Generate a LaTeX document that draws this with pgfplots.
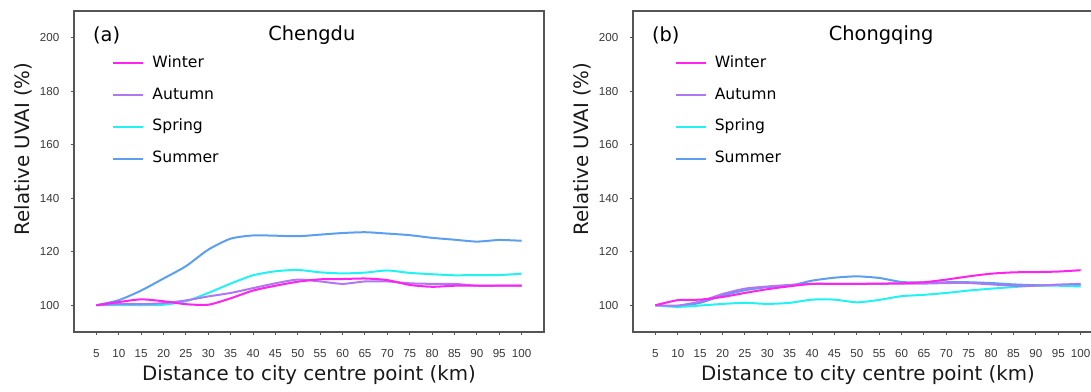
\documentclass[border=0pt]{standalone}
\usepackage{fontspec}
\setmainfont{DejaVu Sans}
\newfontfamily\tickfont{Liberation Sans}
\usepackage{pgfplots}
\usepackage{pgfplotstable}
\pgfplotsset{compat=1.18}
\definecolor{cwin}{HTML}{FF22F0}
\definecolor{caut}{HTML}{AE78F2}
\definecolor{cspr}{HTML}{22F2F2}
\definecolor{csum}{HTML}{5C9FF0}
\definecolor{axgray}{HTML}{555555}

\pgfplotstableread{
d   win   aut   spr   sum
5   100.0 100.0 100.0 100.0
10  101.2 100.5 100.1 101.9
15  102.2 100.4 100.0 105.5
20  101.5 100.8 100.2 110.0
25  100.4 101.8 101.5 114.6
30  100.2 103.3 104.6 120.8
35  102.6 104.6 108.1 124.9
40  105.5 106.4 111.2 126.1
45  107.3 108.2 112.7 126.0
50  108.8 109.6 113.2 125.8
55  109.7 108.9 112.3 126.4
60  109.8 108.0 111.9 127.0
65  110.0 108.9 112.2 127.3
70  109.4 108.9 113.0 126.8
75  107.6 108.2 112.1 126.2
80  106.9 108.0 111.6 125.2
85  107.3 108.0 111.2 124.5
90  107.3 107.3 111.3 123.8
95  107.3 107.3 111.3 124.4
100 107.3 107.3 111.8 124.1
}\chengdu

\pgfplotstableread{
d   win   aut   spr   sum
5   100.0 100.0 100.0 100.0
10  101.9  99.9  99.4  99.6
15  102.1 101.4  99.9 100.9
20  103.1 104.2 100.5 103.6
25  104.6 106.2 100.9 105.6
30  106.0 107.0 100.5 106.8
35  107.1 107.6 100.9 107.3
40  108.0 108.0 102.1 109.2
45  108.0 108.0 102.1 110.3
50  108.0 108.0 101.1 110.8
55  108.1 108.0 102.0 110.2
60  108.2 108.1 103.4 108.7
65  108.6 108.1 103.9 108.5
70  109.6 108.3 104.6 108.6
75  110.8 108.3 105.5 108.6
80  111.8 107.8 106.2 108.3
85  112.3 107.3 106.8 107.8
90  112.4 107.3 107.3 107.5
95  112.6 107.7 107.3 107.6
100 113.1 108.0 107.0 107.6
}\chongqing

\tikzset{titlefont/.style={font=\fontsize{9.7}{11}\selectfont}}

\pgfplotsset{
  panel/.style={
    scale only axis, width=235pt, height=160.5pt, anchor=south west,
    xmin=0, xmax=105, ymin=90, ymax=210,
    xtick={5,10,...,100}, ytick={100,120,...,200},
    tick align=outside, tick pos=left, major tick length=1.6pt,
    axis line style={axgray, line width=0.7pt},
    every tick/.style={axgray, line width=0.5pt},
    tick label style={font=\tickfont\fontsize{5.8}{6}\selectfont, text=black!78},
    /pgf/number format/assume math mode=true,
    xticklabel style={yshift=-3.4pt},
    yticklabel style={xshift=-2.2pt},
    xlabel={Distance to city centre point (km)},
    ylabel={Relative UVAI (\%)},
    label style={font=\fontsize{9.9}{11}\selectfont, text=black!90},
    xlabel style={at={(rel axis cs:0.5,-0.134)}, anchor=center},
    ylabel style={at={(rel axis cs:-0.1085,0.57)}, anchor=center},
    legend style={draw=none, fill=none, inner sep=0pt,
      font=\fontsize{7.8}{9}\selectfont, row sep=8.7pt,
      nodes={inner sep=0pt, text height=5.6pt, text depth=1.6pt, anchor=west}},
    legend cell align=left,
    legend image code/.code={\draw[##1] (0pt,0pt) -- (15pt,0pt); \path (19pt,0pt);},
    reverse legend,
    every axis plot/.append style={line width=1pt, smooth, tension=0.4, mark=none},
  },
}

\begin{document}
\begin{tikzpicture}
\path[use as bounding box] (0,0) rectangle (545.5pt,195.5pt);

\begin{axis}[panel, at={(37pt,29.5pt)},
  legend style={at={(rel axis cs:0.081,0.861)}, anchor=north west}]
\addplot[csum] table[x=d,y=sum] {\chengdu};
\addplot[cspr] table[x=d,y=spr] {\chengdu};
\addplot[caut] table[x=d,y=aut] {\chengdu};
\addplot[cwin] table[x=d,y=win] {\chengdu};
\legend{Summer,Spring,Autumn,Winter}
\node[titlefont, anchor=west] at (rel axis cs:0.0255,0.925) {(a)};
\node[titlefont] at (rel axis cs:0.506,0.925) {Chengdu};
\end{axis}

\begin{axis}[panel, at={(316.5pt,29.5pt)},
  legend style={at={(rel axis cs:0.088,0.861)}, anchor=north west}]
\addplot[csum] table[x=d,y=sum] {\chongqing};
\addplot[cspr] table[x=d,y=spr] {\chongqing};
\addplot[caut] table[x=d,y=aut] {\chongqing};
\addplot[cwin] table[x=d,y=win] {\chongqing};
\legend{Summer,Spring,Autumn,Winter}
\node[titlefont, anchor=west] at (rel axis cs:0.0255,0.925) {(b)};
\node[titlefont] at (rel axis cs:0.528,0.925) {Chongqing};
\end{axis}
\end{tikzpicture}
\end{document}
